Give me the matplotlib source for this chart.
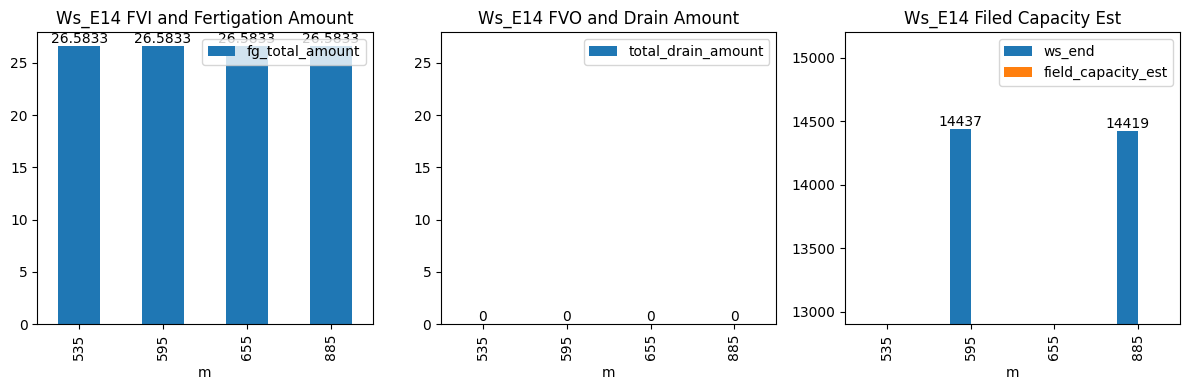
import numpy as np
import pandas as pd
import matplotlib
matplotlib.use('Agg')
import matplotlib.pyplot as plt

m = [535, 595, 655, 885]
fg_total_amount = [26.5833, 26.5833, 26.5833, 26.5833]
total_drain_amount = [0, 0, 0, 0]
ws_end = [np.nan, 14437, np.nan, 14419]
field_capacity_est = [np.nan, np.nan, np.nan, np.nan]

df = pd.DataFrame({'m': m,
                   'fg_total_amount': fg_total_amount,
                   'total_drain_amount': total_drain_amount,
                   'ws_end': ws_end,
                   'field_capacity_est': field_capacity_est}).set_index('m')

fig, axes = plt.subplots(1, 3, figsize=(12, 4))

ax = df[['fg_total_amount']].plot(kind='bar', ax=axes[0])
for c in ax.containers:
    ax.bar_label(c)
ax.legend(loc='upper right')
ax.set_title('Ws_E14 FVI and Fertigation Amount')
ylim = ax.get_ylim()

ax = df[['total_drain_amount']].plot(kind='bar', ax=axes[1])
for c in ax.containers:
    ax.bar_label(c)
ax.set_ylim(ylim)
ax.legend(loc='upper right')
ax.set_title('Ws_E14 FVO and Drain Amount')

ax = df[['ws_end', 'field_capacity_est']].plot(kind='bar', ax=axes[2])
for c in ax.containers:
    ax.bar_label(c)
ax.set_ylim(12900, 15200)
ax.legend(loc='upper right')
ax.set_title('Ws_E14 Filed Capacity Est')

plt.tight_layout()
plt.savefig('out.png', dpi=100, bbox_inches='tight')
